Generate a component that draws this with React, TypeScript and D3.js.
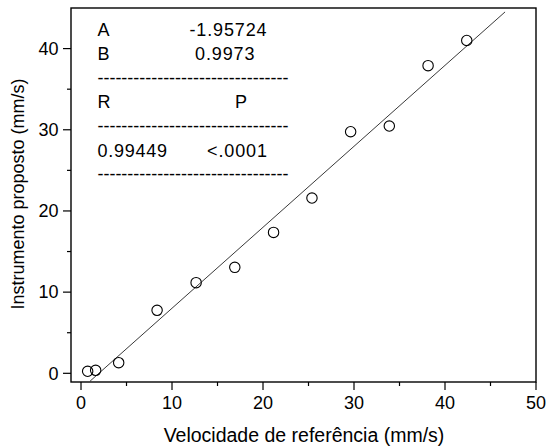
import React, { useEffect } from 'react';
import * as d3 from 'd3';

// reference velocity (x) vs proposed instrument (y), mm/s
const refVel = [0.73, 1.61, 4.14, 8.36, 12.65, 16.9, 21.16, 25.38, 29.63, 33.88, 38.14, 42.39];
const instVel = [0.25, 0.37, 1.31, 7.76, 11.17, 13.05, 17.36, 21.59, 29.76, 30.46, 37.9, 41.0];

// linear fit params
const fitA = -1.95724;
const fitB = 0.9973;
const fitR = '0.99449';
const fitP = '<.0001';
const fitRange = [1.0, 46.6];

const xTicks = [0, 10, 20, 30, 40, 50];
const yTicks = [0, 10, 20, 30, 40];
const xMinor = [5, 15, 25, 35, 45];
const yMinor = [5, 15, 25, 35];

const W = 547;
const H = 446;
const margin = { top: 8, right: 11, bottom: 64, left: 71 };
const font = "'Liberation Sans', Arial, sans-serif";
const dashes = '-'.repeat(32);

export default function App() {
  useEffect(() => {
    document.body.style.margin = '0';
  }, []);

  const x = d3.scaleLinear().domain([-1.1, 50]).range([margin.left, W - margin.right]);
  const y = d3.scaleLinear().domain([-1.07, 45]).range([H - margin.bottom, margin.top]);

  const points = refVel.map((v, i) => ({ x: v, y: instVel[i] }));
  const fitLine = d3.line<number>()
    .x(d => x(d))
    .y(d => y(fitA + fitB * d));

  const bottom = H - margin.bottom;
  const left = margin.left;

  return (
    <svg width={W} height={H} style={{ display: 'block' }} fontFamily={font}>
      <rect x={0} y={0} width={W} height={H} fill="white" />

      {/* fitted line */}
      <path d={fitLine(fitRange) || ''} fill="none" stroke="#222" strokeWidth={0.9} />

      {/* points */}
      {points.map((p, i) => (
        <circle key={i} cx={x(p.x)} cy={y(p.y)} r={5.2} fill="none" stroke="black" strokeWidth={1.1} />
      ))}

      {/* frame */}
      <rect x={left} y={margin.top} width={W - margin.right - left} height={bottom - margin.top}
        fill="none" stroke="black" strokeWidth={1.4} />

      {/* x axis ticks */}
      {xTicks.map(t => (
        <g key={'x' + t}>
          <line x1={x(t)} x2={x(t)} y1={bottom} y2={bottom + 8} stroke="black" strokeWidth={1.2} />
          <text x={x(t)} y={408.5} textAnchor="middle" fontSize={18}>{t}</text>
        </g>
      ))}
      {xMinor.map(t => (
        <line key={'xm' + t} x1={x(t)} x2={x(t)} y1={bottom} y2={bottom + 4} stroke="black" strokeWidth={1.2} />
      ))}

      {/* y axis ticks */}
      {yTicks.map(t => (
        <g key={'y' + t}>
          <line x1={left - 8} x2={left} y1={y(t)} y2={y(t)} stroke="black" strokeWidth={1.2} />
          <text x={58.5} y={y(t)} dy="0.35em" textAnchor="end" fontSize={18}>{t}</text>
        </g>
      ))}
      {yMinor.map(t => (
        <line key={'ym' + t} x1={left - 4} x2={left} y1={y(t)} y2={y(t)} stroke="black" strokeWidth={1.2} />
      ))}

      {/* axis titles */}
      <text x={304} y={441.5} textAnchor="middle" fontSize={19.5}>Velocidade de referência (mm/s)</text>
      <text transform={`translate(24, ${(margin.top + bottom) / 2 - 1}) rotate(-90)`} textAnchor="middle" fontSize={18}>
        Instrumento proposto (mm/s)
      </text>

      {/* fit table */}
      <g fontSize={18}>
        <text x={97.5} y={35.5}>A</text>
        <text x={189.5} y={35.5} textLength={77} lengthAdjust="spacing">{String(fitA)}</text>
        <text x={97.5} y={60}>B</text>
        <text x={195} y={60} textLength={59.5} lengthAdjust="spacing">{String(fitB)}</text>
        <text x={97.5} y={84} textLength={191} lengthAdjust="spacing">{dashes}</text>
        <text x={97.5} y={108.3}>R</text>
        <text x={235} y={108.3}>P</text>
        <text x={97.5} y={132} textLength={191} lengthAdjust="spacing">{dashes}</text>
        <text x={97.5} y={156.7} textLength={69.5} lengthAdjust="spacing">{fitR}</text>
        <text x={207} y={156.7} textLength={60} lengthAdjust="spacing">{fitP}</text>
        <text x={97.5} y={180} textLength={191} lengthAdjust="spacing">{dashes}</text>
      </g>
    </svg>
  );
}
